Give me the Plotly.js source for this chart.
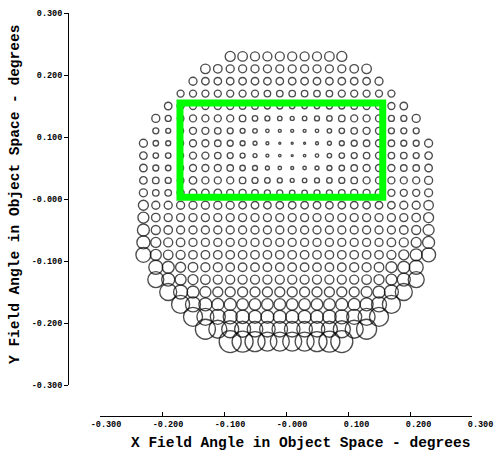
<!DOCTYPE html>
<html>
<head>
<meta charset="utf-8">
<script src="https://cdn.plot.ly/plotly-3.0.1.min.js"></script>
<style>html,body{margin:0;padding:0;background:#fff;}#chart{width:495px;height:453px;}</style>
</head>
<body>
<div id="chart"></div>
<script>
// Field grid columns (X field angle, degrees)
const colX = [-0.23,-0.21,-0.19,-0.17,-0.15,-0.13,-0.11,-0.09,-0.07,-0.05,-0.03,-0.01,
               0.01, 0.03, 0.05, 0.07, 0.09, 0.11, 0.13, 0.15, 0.17, 0.19, 0.21, 0.23];
// Field grid rows (Y field angle, degrees), top to bottom
const rowY = [0.23,0.21,0.19,0.17,0.15,0.13,0.11,0.09,0.07,0.05,0.03,0.01,
              -0.01,-0.03,-0.05,-0.07,-0.09,-0.11,-0.13,-0.15,-0.17,-0.19,-0.21,-0.23];
// index of the first column used in each row
const rowStart = [7,5,4,3,2,1,1,0,0,0,0,0,0,0,0,0,0,1,1,2,3,4,5,7];
// circle diameters, per row
const rowSizes = [
  [10,9.5,9,9,9,9,9,9,9.5,10],
  [9.5,8.5,8,8,8,8,8,8,8,8,8,8,8.5,9.5],
  [8,7.5,7.5,7.5,7.5,7.5,7.5,7.5,7.5,7.5,7.5,7.5,7.5,7.5,7.5,8],
  [7,7,7,7,7,7,7,6.5,6.5,6.5,6.5,6.5,6.5,7,7,7,7,7],
  [7.5,7,7,7,7,7,6.5,6.5,6,6,5.5,5.5,5.5,6,6,6.5,7,7,7,7.5],
  [8,6,6.5,7,7,7,7,6.5,5.5,5,4.5,4,4.5,5,5.5,6.5,7,7,7,6,6,8],
  [6,5,6,7,7,6.5,6,5,4.5,3.5,3,3,3,3.5,4.5,5.5,6.5,7,7,6,6,6],
  [8,5.5,5,6,7,7,6.5,6,5,4,3,2,2,2,3,4,5,6,6.5,7,6.5,6,6,8],
  [7.5,5.5,5.5,6,7,7,6.5,6,5,4,3,2.5,2,2.5,3.5,4.5,5.5,6,6.5,7,6.5,6.5,6,7.5],
  [7.5,6,5.5,6,7,7,7,6.5,5.5,5,4,3.5,3,3.5,4,5,5.5,6.5,7,7,7,6.5,6.5,7.5],
  [7.5,6.5,6,6.5,7.5,7,7,7,6.5,6,5.5,5,4,4.5,5,5.5,6,6.5,7,7,7,7,7,8],
  [8,6.5,6.5,7,7.5,7.5,7.5,7,7,6.5,6,6,5.5,5.5,6,6,6.5,7,7,7.5,7,7,7,8],
  [10,8,8,8,8,8,8,8,7.5,7.5,7.5,7.5,7.5,7.5,7.5,7.5,7.5,7.5,7.5,7.5,7.5,8,8,9.5],
  [11,8.5,8,8,8,8,8,8,8,8,8,8,8,8,8,8,8,8,8,8,8,8,8.5,10],
  [12,9,8.5,8,8,8,8,8,8,8,8,8,8,8,8,8,8,8,8,8,8,8.5,9,11],
  [13,10,9,8.5,8,8,8,8,8,8,8,8,8,8,8,8,8,8,8,8,8.5,9,10,12],
  [15,11,9.5,9,8.5,8.5,8.5,8.5,8.5,8.5,8.5,8.5,8.5,8.5,8.5,8.5,8.5,8.5,8.5,8.5,9,10,12,14],
  [14,12,10,9.5,9,9,8.5,8.5,8.5,8.5,8.5,8.5,8.5,8.5,8.5,8.5,9,9,9.5,11,12,14],
  [16,13,11,10,9.5,9,9,9,9,9,9,9,9,9,9,9,9,9.5,10,11,13,16],
  [17,14,12,11,10,10,10,10,10,10,10,10,10,10,10,10,11,12,14,17],
  [18,15,13,12,12,11.5,11.5,11.5,11.5,11.5,11.5,11.5,11.5,12,12,13,15,18],
  [19,17,15,14,13.5,13,13,13,13,13,13,13.5,14,15,17,19],
  [20,18,17,16,15.5,15.5,15.5,15.5,15.5,15.5,16,17,18,20],
  [22,21,20,19,19,19,19,20,21,22]
];
// highlighted region (green box), degrees
const boxX = [-0.171, 0.156];
const boxY = [0.003, 0.155];
// tick labels
const tickVals = [-0.3,-0.2,-0.1,0,0.1,0.2,0.3];
const xTickText = ["-0.300","-0.200","-0.100","-0.000","0.100","0.200","0.300"];
const yTickText = ["-0.300","-0.200","-0.100","-0.000","0.100","0.200","0.300"];

const xs = [], ys = [], ss = [];
rowY.forEach((y, r) => {
  rowSizes[r].forEach((s, k) => {
    xs.push(colX[rowStart[r] + k]);
    ys.push(y);
    ss.push(s);
  });
});

const NB = '\u00A0';
const padTxt = t => (t.length < 6 ? NB.repeat(6 - t.length) : '') + t;

const monoBold = {family: 'Liberation Mono, Courier New, monospace', size: 8.5, color: '#000', weight: 'bold'};
const titleFont = {family: 'Liberation Mono, Courier New, monospace', size: 14.5, color: '#000', weight: 'bold'};

const trace = {
  type: 'scatter', mode: 'markers', x: xs, y: ys,
  marker: {symbol: 'circle-open', size: ss, color: '#000', line: {width: 1.35, color: '#000'}},
  hoverinfo: 'x+y', showlegend: false, cliponaxis: false
};

const layout = {
  width: 495, height: 453,
  margin: {l: 68, r: 23, t: 13, b: 37, pad: 0},
  paper_bgcolor: '#fff', plot_bgcolor: '#fff',
  showlegend: false,
  xaxis: {
    domain: [32/404, 1], range: [-0.3, 0.3], anchor: 'free', position: 0,
    showline: true, linecolor: '#000', linewidth: 1,
    ticks: 'inside', ticklen: 4, tickcolor: '#000', tickwidth: 1,
    tickvals: tickVals, ticktext: xTickText.map(padTxt), tickfont: monoBold,
    ticklabelshift: 6, ticklabelstandoff: 0,
    showgrid: false, zeroline: false, fixedrange: true
  },
  yaxis: {
    domain: [31/403, 1], range: [-0.3, 0.3], anchor: 'free', position: 0,
    showline: true, linecolor: '#000', linewidth: 1,
    ticks: 'outside', ticklen: 4, tickcolor: '#000', tickwidth: 1,
    tickvals: tickVals, ticktext: yTickText, tickfont: monoBold,
    showgrid: false, zeroline: false, fixedrange: true
  },
  shapes: [{
    type: 'rect', xref: 'x', yref: 'y',
    x0: boxX[0], x1: boxX[1], y0: boxY[0], y1: boxY[1],
    line: {color: '#00ff00', width: 7}, fillcolor: 'rgba(0,0,0,0)', layer: 'above'
  }],
  annotations: [
    {text: 'X Field Angle in Object Space - degrees', xref: 'paper', yref: 'paper',
     x: (300-68)/404, y: (416-443)/403, xanchor: 'center', yanchor: 'middle',
     showarrow: false, font: titleFont},
    {text: 'Y Field Angle in Object Space - degrees', xref: 'paper', yref: 'paper',
     x: (15-68)/404, y: (416-195)/403, xanchor: 'center', yanchor: 'middle',
     textangle: -90, showarrow: false, font: titleFont}
  ]
};

Plotly.newPlot('chart', [trace], layout, {displayModeBar: false, staticPlot: true});
</script>
</body>
</html>
